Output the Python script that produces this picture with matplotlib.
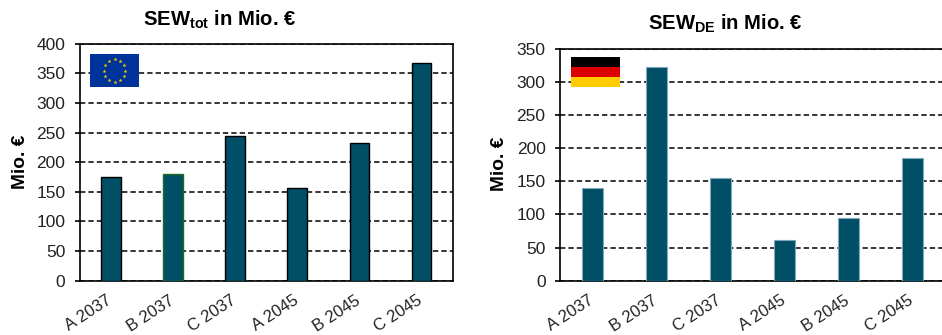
import numpy as np
import matplotlib
matplotlib.use("Agg")
import matplotlib.pyplot as plt
from matplotlib.patches import Rectangle

plt.rcParams["font.family"] = ["Liberation Sans", "DejaVu Sans"]
plt.rcParams["mathtext.fontset"] = "custom"
plt.rcParams["mathtext.bf"] = "Liberation Sans:bold"
plt.rcParams["mathtext.rm"] = "Liberation Sans"

scenarios = ["A 2037", "B 2037", "C 2037", "A 2045", "B 2045", "C 2045"]
sew_tot = [175, 180, 245, 156, 232, 367]
sew_de = [140, 322, 155, 61, 95, 185]
ticks_tot = [0, 50, 100, 150, 200, 250, 300, 350, 400]
ticks_de = [0, 50, 100, 150, 200, 250, 300, 350]

W, H = 942, 335
BAR = "#004f67"


def px_axes(x0, x1, y_top, y_bot, **kw):
    return fig.add_axes([x0 / W, 1 - y_bot / H, (x1 - x0) / W, (y_bot - y_top) / H], **kw)


def draw(ax, values, yticks, edges, lw):
    x = np.arange(len(values))
    ax.set_axisbelow(True)
    ax.yaxis.grid(True, color="black", linestyle=(0, (3.5, 2)), linewidth=1.1)
    ax.bar(x, values, width=0.32, color=BAR, edgecolor=edges, linewidth=lw, zorder=3)
    ax.set_xlim(-0.5, 5.5)
    ax.set_ylim(0, yticks[-1])
    ax.set_yticks(yticks)
    ax.set_xticks(x)
    ax.set_xticklabels([])
    # labels end at the bar centre
    for i, name in enumerate(scenarios):
        ax.annotate(name, xy=(i, 0), xycoords=("data", "axes fraction"), xytext=(-0.5 * 0.72, -18.5 * 0.72),
                    textcoords="offset points", rotation=33, ha="right", va="center",
                    rotation_mode="anchor", fontsize=12, color="#222222", annotation_clip=False)
    ax.tick_params(axis="x", length=0)
    ax.tick_params(axis="y", length=3.6, width=1.2, pad=7, labelsize=12.5, labelcolor="#222222")
    for s in ax.spines.values():
        s.set_linewidth(1.2)


fig = plt.figure(figsize=(W / 100, H / 100), dpi=100)

ax1 = px_axes(80, 452.6, 43.8, 280.7)
draw(ax1, sew_tot, ticks_tot, ["black", "#1f6b1f", "black", "black", "black", "black"], 1.0)

ax2 = px_axes(560.3, 944.3, 48.7, 280.7)
draw(ax2, sew_de, ticks_de, "#7fa8b8", 0.8)

fig.text(220 / W, 1 - 26 / H, r"SEW$_{\mathbf{tot}}$ in Mio. €", fontsize=14.6, fontweight="bold",
         ha="center", va="baseline")
fig.text(725 / W, 1 - 30 / H, r"SEW$_{\mathbf{DE}}$ in Mio. €", fontsize=14.6, fontweight="bold",
         ha="center", va="baseline")
fig.text(20.5 / W, 1 - 162 / H, "Mio. €", fontsize=13.8, fontweight="bold", rotation=90, ha="center", va="center")
fig.text(500 / W, 1 - 164 / H, "Mio. €", fontsize=13.8, fontweight="bold", rotation=90, ha="center", va="center")

# EU flag
eu = px_axes(90, 139, 54, 87, zorder=5)
eu.set_xlim(-1.5, 1.5)
eu.set_ylim(-1, 1)
eu.axis("off")
eu.add_patch(Rectangle((-1.5, -1), 3, 2, color="#003399"))
angles = np.deg2rad(np.arange(0, 360, 30))
eu.scatter(0.67 * np.cos(angles), 0.67 * np.sin(angles), marker="*", s=9, color="#ffcc00", linewidths=0)

# German flag
de = px_axes(571, 620, 57, 87, zorder=5)
de.set_xlim(0, 1)
de.set_ylim(0, 3)
de.axis("off")
for i, c in enumerate(["#ffcc00", "#dd0000", "#000000"]):
    de.add_patch(Rectangle((0, i), 1, 1, color=c, linewidth=0))

fig.savefig("out.png", dpi=100)
